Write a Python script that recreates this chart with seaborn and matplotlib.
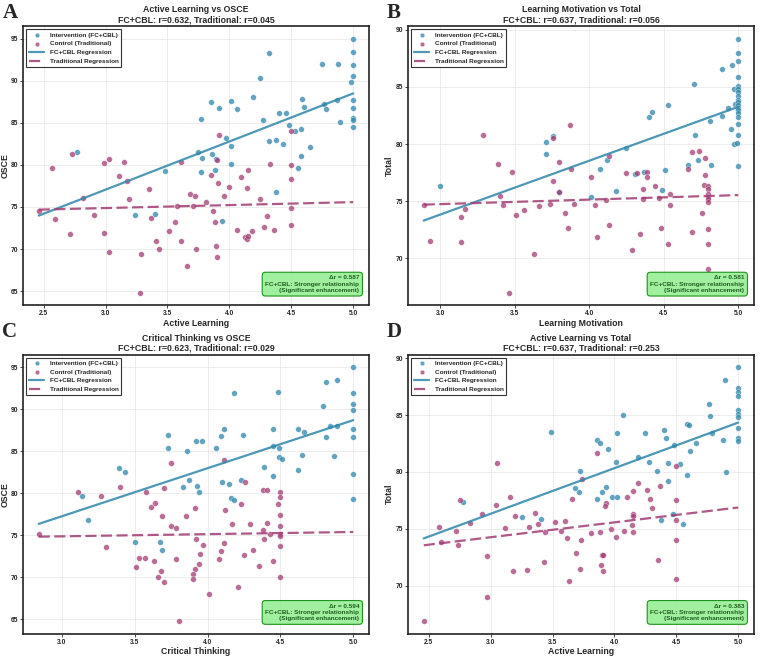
import numpy as np
import pandas as pd
import seaborn as sns
import matplotlib.pyplot as plt

# ---- data ----
# panel A: Active Learning vs OSCE
a_int_x = [2.77, 3.24, 3.40, 3.48, 3.77, 3.75, 3.78, 3.77, 3.85, 3.86, 3.88, 3.89, 3.92, 3.94, 3.97,
           4.01, 4.01, 4.01, 4.06, 4.19, 4.25, 4.27, 4.32, 4.32, 4.38, 4.40, 4.43, 4.46, 4.48, 4.53,
           4.55, 4.58, 4.58, 4.59, 4.60, 4.65, 4.38, 4.75, 4.76, 4.78, 4.88, 4.87, 4.89, 4.98,
           5.0, 5.0, 5.0, 5.0, 5.0, 5.0, 5.0, 5.0, 5.0]
a_int_y = [81.6, 74.1, 74.2, 79.3, 85.5, 81.6, 80.8, 79.2, 87.5, 81.3, 79.4, 80.7, 86.8, 73.3, 83.2,
           87.6, 82.3, 80.1, 86.7, 88.1, 90.4, 85.4, 93.3, 82.9, 83.0, 86.2, 82.5, 86.2, 84.7, 84.1,
           79.6, 84.3, 81.1, 87.9, 86.9, 82.1, 76.8, 92.0, 87.3, 86.7, 92.0, 87.7, 85.1, 89.9,
           95.0, 93.5, 91.9, 90.6, 87.7, 86.8, 85.6, 85.4, 84.5]
a_ctl_x = [2.46, 2.57, 2.59, 2.71, 2.73, 2.82, 2.91, 2.99, 2.99, 3.03, 3.03, 3.11, 3.15, 3.17, 3.19,
           3.28, 3.29, 3.35, 3.37, 3.41, 3.43, 3.51, 3.56, 3.58, 3.61, 3.61, 3.66, 3.68, 3.72, 3.71,
           3.73, 3.81, 3.85, 3.87, 3.88, 3.89, 3.90, 3.90, 3.91, 3.92, 3.96, 4.00, 4.06, 4.09, 4.13,
           4.14, 4.14, 4.15, 4.15, 4.18, 4.25, 4.28, 4.30, 4.33, 4.36, 4.50, 4.50, 4.50, 4.50, 4.50]
a_ctl_y = [74.5, 79.7, 73.6, 71.8, 81.3, 76.1, 74.0, 80.2, 71.9, 69.7, 80.7, 78.7, 80.4, 78.1, 76.0,
           64.8, 69.4, 77.2, 73.7, 71.0, 70.0, 72.2, 73.2, 75.1, 80.4, 70.9, 68.0, 76.6, 76.3, 75.1,
           70.0, 75.6, 78.8, 74.5, 73.2, 70.4, 69.0, 80.6, 77.9, 83.6, 76.3, 77.4, 72.3, 78.6, 71.4,
           77.3, 71.2, 79.4, 71.5, 72.2, 75.9, 72.6, 73.9, 80.1, 72.3, 84.0, 80.0, 78.3, 74.9, 72.8]

# panel B: Learning Motivation vs Total
b_int_x = [3.00, 3.71, 3.71, 3.76, 3.80, 4.01, 4.07, 4.12, 4.18, 4.25, 4.31, 4.37, 4.40, 4.42, 4.49,
           4.51, 4.53, 4.66, 4.70, 4.71, 4.73, 4.81, 4.82, 4.89, 4.89, 4.93, 4.95, 4.96, 4.97, 4.97,
           4.98, 4.99, 5.0, 5.0, 5.0, 5.0, 5.0, 5.0, 5.0, 5.0, 5.0, 5.0, 5.0, 5.0, 5.0, 5.0, 5.0,
           5.0, 5.0, 5.0]
b_int_y = [76.3, 80.2, 79.1, 80.7, 75.8, 75.4, 77.8, 78.6, 75.9, 79.7, 77.4, 77.6, 82.4, 82.8, 76.0,
           77.7, 83.4, 78.2, 85.3, 80.8, 78.6, 82.0, 78.2, 82.5, 86.6, 83.2, 81.3, 86.9, 84.8, 80.0,
           83.5, 80.1, 89.2, 88.0, 87.3, 85.9, 85.1, 84.8, 84.6, 84.2, 83.9, 83.7, 83.4, 83.2, 83.0,
           82.7, 82.4, 81.8, 80.8, 78.1]
b_ctl_x = [2.89, 2.93, 3.14, 3.14, 3.17, 3.29, 3.39, 3.40, 3.42, 3.48, 3.51, 3.56, 3.63, 3.66, 3.46,
           3.74, 3.76, 3.76, 3.80, 3.80, 3.84, 3.86, 3.87, 3.88, 3.90, 4.01, 4.04, 4.05, 4.11, 4.13,
           4.13, 4.25, 4.29, 4.32, 4.34, 4.36, 4.36, 4.39, 4.39, 4.44, 4.47, 4.48, 4.53, 4.54, 4.54,
           4.66, 4.69, 4.69, 4.74, 4.76, 4.77, 4.78, 4.78, 4.8, 4.8, 4.8, 4.8, 4.8, 4.8, 4.8, 4.8, 4.8]
b_ctl_y = [74.7, 71.5, 71.4, 73.6, 74.3, 80.8, 78.3, 75.5, 74.7, 77.6, 73.8, 74.2, 70.4, 74.6, 67.0,
           74.8, 80.5, 76.8, 75.8, 78.4, 74.0, 72.7, 81.7, 77.8, 74.8, 77.1, 74.7, 71.9, 75.1, 79.0,
           72.9, 77.5, 70.7, 77.5, 72.1, 76.1, 75.2, 77.6, 77.1, 76.3, 75.3, 72.7, 71.3, 74.7, 75.6,
           77.8, 79.3, 72.3, 79.4, 74.0, 76.4, 78.8, 77.3, 76.3, 76.1, 75.6, 75.4, 75.2, 74.9, 72.6,
           71.3, 69.1]

# panel C: Critical Thinking vs OSCE
c_int_x = [3.14, 3.18, 3.39, 3.43, 3.50, 3.73, 3.73, 3.67, 3.69, 3.83, 3.86, 3.87, 3.92, 3.96, 3.93,
           3.94, 4.06, 4.09, 4.11, 4.10, 4.15, 4.16, 4.18, 4.18, 4.23, 4.24, 4.39, 4.45, 4.45, 4.45,
           4.48, 4.49, 4.49, 4.51, 4.62, 4.62, 4.66, 4.65, 4.79, 4.81, 4.81, 4.84, 4.87, 4.89, 4.89,
           5.0, 5.0, 5.0, 5.0, 5.0, 5.0, 5.0, 5.0]
c_int_y = [79.7, 76.8, 83.0, 82.5, 74.2, 86.9, 85.4, 74.2, 73.2, 80.7, 85.0, 81.6, 86.2, 86.2, 80.9,
           80.1, 85.4, 86.8, 87.7, 81.3, 81.1, 79.4, 79.2, 91.9, 81.6, 86.9, 83.1, 87.6, 82.1, 85.6,
           92.0, 85.4, 84.3, 84.1, 87.6, 82.8, 87.3, 84.6, 90.4, 86.7, 93.3, 88.0, 84.4, 88.0, 93.5,
           95.0, 91.9, 90.6, 89.9, 87.7, 86.7, 82.3, 79.3]
c_ctl_x = [2.84, 3.11, 3.27, 3.30, 3.40, 3.51, 3.53, 3.57, 3.58, 3.61, 3.63, 3.64, 3.66, 3.68, 3.69,
           3.70, 3.70, 3.75, 3.75, 3.78, 3.78, 3.80, 3.85, 3.91, 3.91, 3.90, 3.90, 3.92, 3.94, 3.95,
           3.97, 4.01, 4.08, 4.09, 4.11, 4.12, 4.11, 4.17, 4.21, 4.23, 4.25, 4.26, 4.29, 4.31, 4.35,
           4.38, 4.38, 4.39, 4.41, 4.41, 4.43, 4.45, 4.48, 4.5, 4.5, 4.5, 4.5, 4.5, 4.5, 4.5, 4.5]
c_ctl_y = [75.2, 80.1, 79.7, 73.6, 80.7, 71.2, 72.3, 72.3, 80.1, 78.4, 72.0, 78.8, 70.0, 70.8, 77.3,
           80.6, 69.5, 83.6, 76.1, 75.9, 72.2, 64.8, 77.3, 78.2, 71.0, 70.4, 69.8, 74.6, 71.6, 72.8,
           73.9, 68.0, 72.2, 73.1, 74.1, 78.0, 84.0, 76.3, 68.9, 78.7, 72.7, 81.3, 76.3, 73.2, 71.4,
           80.4, 75.6, 74.6, 76.5, 80.4, 75.2, 71.9, 78.7, 80.1, 79.5, 77.4, 76.1, 75.2, 74.9, 73.7,
           70.0]

# panel D: Active Learning vs Total
d_int_x = [2.78, 3.25, 3.41, 3.49, 3.68, 3.71, 3.72, 3.86, 3.88, 3.90, 3.86, 3.93, 3.95, 3.98, 4.01,
           4.02, 4.02, 4.07, 4.19, 4.25, 4.28, 4.34, 4.40, 4.42, 4.43, 4.43, 4.38, 4.47, 4.48, 4.53,
           4.55, 4.59, 4.60, 4.61, 4.59, 4.66, 4.76, 4.77, 4.79, 4.88, 4.89, 4.90,
           5.0, 5.0, 5.0, 5.0, 5.0, 5.0, 5.0, 5.0, 5.0, 5.0]
d_int_y = [77.4, 76.0, 75.9, 83.5, 78.6, 78.2, 80.1, 82.8, 82.5, 78.2, 77.6, 78.7, 82.0, 77.8, 80.9,
           77.8, 83.4, 85.0, 81.3, 83.4, 80.9, 80.1, 83.7, 83.0, 80.8, 79.2, 75.8, 76.3, 82.4, 80.7,
           75.4, 84.2, 84.1, 81.8, 79.7, 82.5, 86.0, 84.9, 83.4, 82.8, 88.1, 80.0,
           89.2, 87.4, 87.0, 86.7, 85.4, 85.1, 84.8, 83.9, 83.0, 82.7]
d_ctl_x = [2.46, 2.58, 2.60, 2.72, 2.74, 2.75, 2.83, 2.93, 2.97, 2.97, 3.04, 3.05, 3.12, 3.16, 3.18,
           3.20, 3.29, 3.31, 3.36, 3.38, 3.43, 3.44, 3.52, 3.57, 3.60, 3.62, 3.63, 3.66, 3.69, 3.72,
           3.73, 3.74, 3.81, 3.86, 3.88, 3.89, 3.90, 3.91, 3.91, 3.93, 3.92, 3.97, 4.01, 4.10, 4.08,
           4.14, 4.15, 4.15, 4.15, 4.15, 4.19, 4.26, 4.29, 4.30, 4.35, 4.37, 4.5, 4.5, 4.5, 4.5, 4.5]
d_ctl_y = [66.9, 75.2, 73.8, 74.8, 73.6, 77.5, 75.5, 76.3, 72.6, 69.0, 77.1, 80.8, 75.1, 77.8, 71.3,
           76.1, 71.4, 75.2, 76.4, 75.4, 72.1, 74.7, 75.6, 74.8, 75.7, 74.2, 70.4, 77.6, 72.9, 71.5,
           74.0, 79.4, 74.6, 81.7, 74.7, 71.8, 72.7, 72.7, 71.3, 77.3, 77.0, 75.0, 74.3, 77.8, 74.8,
           75.3, 74.7, 78.3, 76.3, 76.1, 79.0, 78.4, 77.6, 76.8, 72.3, 78.8, 80.5, 77.5, 75.8, 74.0,
           70.6]

titles = ["Active Learning vs OSCE", "Learning Motivation vs Total",
          "Critical Thinking vs OSCE", "Active Learning vs Total"]
xlabels = ["Active Learning", "Learning Motivation", "Critical Thinking", "Active Learning"]
ylabels = ["OSCE", "Total", "OSCE", "Total"]
r_int = [0.632, 0.637, 0.623, 0.637]
r_ctl = [0.045, 0.056, 0.029, 0.253]
delta_r = [0.587, 0.581, 0.594, 0.383]
letters = ["A", "B", "C", "D"]

panels = [(a_int_x, a_int_y, a_ctl_x, a_ctl_y),
          (b_int_x, b_int_y, b_ctl_x, b_ctl_y),
          (c_int_x, c_int_y, c_ctl_x, c_ctl_y),
          (d_int_x, d_int_y, d_ctl_x, d_ctl_y)]

blue = "#2E86AB"
pink = "#A23B72"

sns.set_style("whitegrid")
plt.rcParams['font.family'] = ['Liberation Sans', 'DejaVu Sans']
plt.rcParams['font.weight'] = 'bold'
plt.rcParams['axes.labelweight'] = 'bold'
plt.rcParams['axes.titleweight'] = 'bold'

fig, axes = plt.subplots(2, 2, figsize=(7.67, 6.56), dpi=100)
fig.subplots_adjust(left=0.030, right=0.983, bottom=0.034, top=0.960, wspace=0.113, hspace=0.176)

# panel letter positions (figure fraction, baseline)
letter_pos = [(0.003, 0.973), (0.504, 0.973), (0.003, 0.486), (0.504, 0.486)]

for i, ax in enumerate(axes.flat):
    ix, iy, cx, cy = panels[i]
    sns.scatterplot(x=ix, y=iy, ax=ax, color=blue, s=17, alpha=0.75, edgecolor="white",
                    linewidth=0.3, label="Intervention (FC+CBL)")
    sns.scatterplot(x=cx, y=cy, ax=ax, color=pink, s=17, alpha=0.75, edgecolor="white",
                    linewidth=0.3, label="Control (Traditional)")

    # regression lines across the full x-range
    xs = np.linspace(min(min(ix), min(cx)), max(max(ix), max(cx)), 50)
    k1, b1 = np.polyfit(ix, iy, 1)
    k2, b2 = np.polyfit(cx, cy, 1)
    line = pd.DataFrame({"x": xs, "fc": k1 * xs + b1, "tr": k2 * xs + b2})
    sns.lineplot(data=line, x="x", y="fc", ax=ax, color=blue, lw=1.6, alpha=0.85,
                 label="FC+CBL Regression")
    sns.lineplot(data=line, x="x", y="tr", ax=ax, color=pink, lw=1.6, alpha=0.85,
                 label="Traditional Regression")
    ax.lines[-1].set_linestyle((0, (5, 2)))

    ax.set_title(f"{titles[i]}\nFC+CBL: r={r_int[i]:.3f}, Traditional: r={r_ctl[i]:.3f}",
                 fontsize=6.3, pad=3, linespacing=1.1)
    ax.set_xlabel(xlabels[i], fontsize=6.3, labelpad=1)
    ax.set_ylabel(ylabels[i], fontsize=6.3, labelpad=1)
    ax.tick_params(labelsize=4.8, length=2, width=0.6, pad=1.5, left=True, bottom=True)
    ax.grid(True, color="#e6e6e6", lw=0.5)
    for sp in ax.spines.values():
        sp.set_edgecolor("#222222")
        sp.set_linewidth(1.2)

    leg = ax.legend(loc="upper left", fontsize=4.6, frameon=True, fancybox=False,
                    borderpad=0.45, handlelength=2.4, labelspacing=0.5, markerscale=0.8)
    leg.get_frame().set_edgecolor("black")
    leg.get_frame().set_linewidth(0.8)

    ax.text(0.972, 0.045, f"\u0394r = {delta_r[i]:.3f}\nFC+CBL: Stronger relationship\n(Significant enhancement)",
            transform=ax.transAxes, ha="right", va="bottom", fontsize=4.6, color="#1f5f1f",
            linespacing=1.3,
            bbox=dict(boxstyle="round,pad=0.5", facecolor="lightgreen", edgecolor="green",
                      alpha=0.85, lw=0.8))

    lx, ly = letter_pos[i]
    fig.text(lx, ly, letters[i], fontsize=15, fontweight="bold",
             family="Liberation Serif", va="baseline", ha="left")

fig.savefig("out.png", dpi=100)
